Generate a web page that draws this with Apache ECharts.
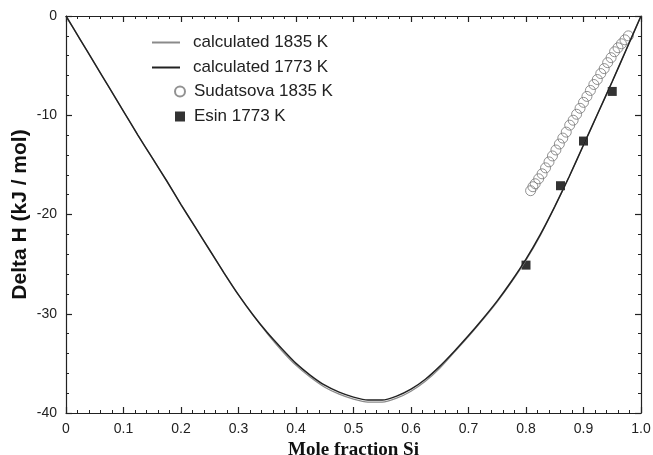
<!DOCTYPE html>
<html>
<head>
<meta charset="utf-8">
<script src="https://cdn.jsdelivr.net/npm/echarts@6/dist/echarts.min.js"></script>
<style>
  html, body { margin: 0; padding: 0; background: #fff; }
  #chart { width: 653px; height: 455px; }
</style>
</head>
<body>
<div id="chart"></div>
<script>
// calculated curves (every 0.025)
const calcX = [0, 0.025, 0.05, 0.075, 0.1, 0.125, 0.15, 0.175, 0.2, 0.225, 0.25, 0.275, 0.3, 0.325, 0.35, 0.375, 0.4, 0.425, 0.45, 0.475, 0.5,
  0.525, 0.55, 0.575, 0.6, 0.625, 0.65, 0.675, 0.7, 0.725, 0.75, 0.775, 0.8, 0.825, 0.85, 0.875, 0.9, 0.925, 0.95, 0.975, 1.0]
const calc1835 = [0, -2.4, -4.8, -7.2, -9.6, -12.0, -14.3, -16.6, -19.0, -21.3, -23.6, -25.9, -28.1, -30.1, -32.0, -33.7, -35.2, -36.4, -37.4, -38.1, -38.6,
  -38.9, -38.9, -38.5, -37.8, -36.8, -35.5, -33.9, -32.3, -30.6, -28.8, -26.8, -24.6, -22.1, -19.2, -16.2, -13.0, -9.8, -6.6, -3.3, 0]
const calc1773 = [0, -2.4, -4.8, -7.2, -9.6, -12.0, -14.3, -16.6, -19.0, -21.3, -23.6, -25.9, -28.1, -30.1, -31.9, -33.5, -35.0, -36.2, -37.2, -37.9, -38.4,
  -38.7, -38.7, -38.3, -37.6, -36.6, -35.3, -33.8, -32.2, -30.5, -28.7, -26.7, -24.5, -22.0, -19.2, -16.2, -13.0, -9.8, -6.6, -3.3, 0]

// Sudatsova 1835 K
const sudX = [0.808, 0.812, 0.816, 0.822, 0.828, 0.834, 0.840, 0.846, 0.852, 0.858, 0.864, 0.870, 0.876, 0.882, 0.888, 0.894, 0.900, 0.906, 0.912, 0.918, 0.924, 0.930, 0.936, 0.942, 0.948, 0.954, 0.960, 0.966, 0.972, 0.978]
const sudY = [-17.6, -17.2, -16.9, -16.4, -15.9, -15.3, -14.7, -14.1, -13.5, -12.9, -12.3, -11.7, -11.0, -10.5, -9.9, -9.3, -8.7, -8.1, -7.5, -6.9, -6.4, -5.8, -5.3, -4.7, -4.2, -3.6, -3.2, -2.8, -2.4, -2.0]

// Esin 1773 K
const esinX = [0.80, 0.86, 0.90, 0.95]
const esinY = [-25.1, -17.1, -12.6, -7.6]

const pairs = (xs, ys) => xs.map((x, i) => [x, ys[i]])

const lineStyle = { color: '#222', width: 1.2 }
const labelFont = () => ({ fontFamily: 'Liberation Sans, Arial, sans-serif', fontSize: 14, color: '#222' })
const legendText = pad => ({ fontFamily: 'Liberation Sans, Arial, sans-serif', fontSize: 17, color: '#222', padding: [0, 0, 0, pad] })

// one axis per side, ticks pointing into the plot box
function boxAxis (position, min, max, interval, extra) {
  return Object.assign({
    type: 'value',
    position: position,
    min: min,
    max: max,
    interval: interval,
    axisLine: { show: true, onZero: false, lineStyle: lineStyle },
    axisTick: { show: true, inside: true, length: 6, lineStyle: lineStyle },
    minorTick: { show: true, splitNumber: 5, length: 3, lineStyle: { color: '#222', width: 1 } },
    splitLine: { show: false },
    axisLabel: { show: false }
  }, extra || {})
}

const chart = echarts.init(document.getElementById('chart'))
const option = {
  animation: false,
  backgroundColor: '#fff',
  grid: { left: 66, right: 12, top: 16, bottom: 42, containLabel: false, outerBoundsMode: 'none' },
  legend: [
    {
      data: [
        { name: 'calculated 1835 K', icon: 'rect' },
        { name: 'calculated 1773 K', icon: 'rect' }
      ],
      orient: 'vertical',
      left: 147,
      top: 29,
      itemWidth: 28,
      itemHeight: 2,
      itemGap: 8,
      textStyle: legendText(8)
    },
    {
      data: ['Sudatsova 1835 K', 'Esin 1773 K'],
      orient: 'vertical',
      left: 169,
      top: 78,
      itemWidth: 10,
      itemHeight: 10,
      itemGap: 8,
      textStyle: legendText(4)
    }
  ],
  xAxis: [
    boxAxis('bottom', 0, 1, 0.1, {
      name: 'Mole fraction Si',
      nameLocation: 'middle',
      nameGap: 24,
      nameTextStyle: { fontFamily: 'Liberation Serif, Times New Roman, serif', fontWeight: 'bold', fontSize: 19, color: '#111' },
      axisLabel: Object.assign({ margin: 9, formatter: v => (v === 0 ? '0' : v.toFixed(1)) }, labelFont())
    }),
    boxAxis('top', 0, 1, 0.1)
  ],
  yAxis: [
    boxAxis('left', -40, 0, 10, {
      name: 'Delta H (kJ / mol)',
      nameLocation: 'middle',
      nameGap: 35,
      nameMoveOverlap: false,
      nameTextStyle: { fontFamily: 'Liberation Sans, Arial, sans-serif', fontWeight: 'bold', fontSize: 21, color: '#111' },
      axisLabel: Object.assign({ margin: 9 }, labelFont())
    }),
    boxAxis('right', -40, 0, 10)
  ],
  series: [
    {
      name: 'calculated 1835 K',
      type: 'line',
      smooth: 0.2,
      symbol: 'none',
      lineStyle: { color: '#8a8a8a', width: 1.2 },
      itemStyle: { color: '#8a8a8a' },
      data: pairs(calcX, calc1835)
    },
    {
      name: 'calculated 1773 K',
      type: 'line',
      smooth: 0.2,
      symbol: 'none',
      lineStyle: { color: '#222', width: 1.5 },
      itemStyle: { color: '#222' },
      data: pairs(calcX, calc1773)
    },
    {
      name: 'Sudatsova 1835 K',
      type: 'scatter',
      symbol: 'circle',
      symbolSize: 10,
      itemStyle: { color: 'rgba(255,255,255,0)', borderColor: '#777', borderWidth: 1 },
      data: pairs(sudX, sudY)
    },
    {
      name: 'Esin 1773 K',
      type: 'scatter',
      symbol: 'rect',
      symbolSize: 9,
      itemStyle: { color: '#000' },
      data: pairs(esinX, esinY)
    }
  ]
}
chart.setOption(option)
</script>
</body>
</html>
